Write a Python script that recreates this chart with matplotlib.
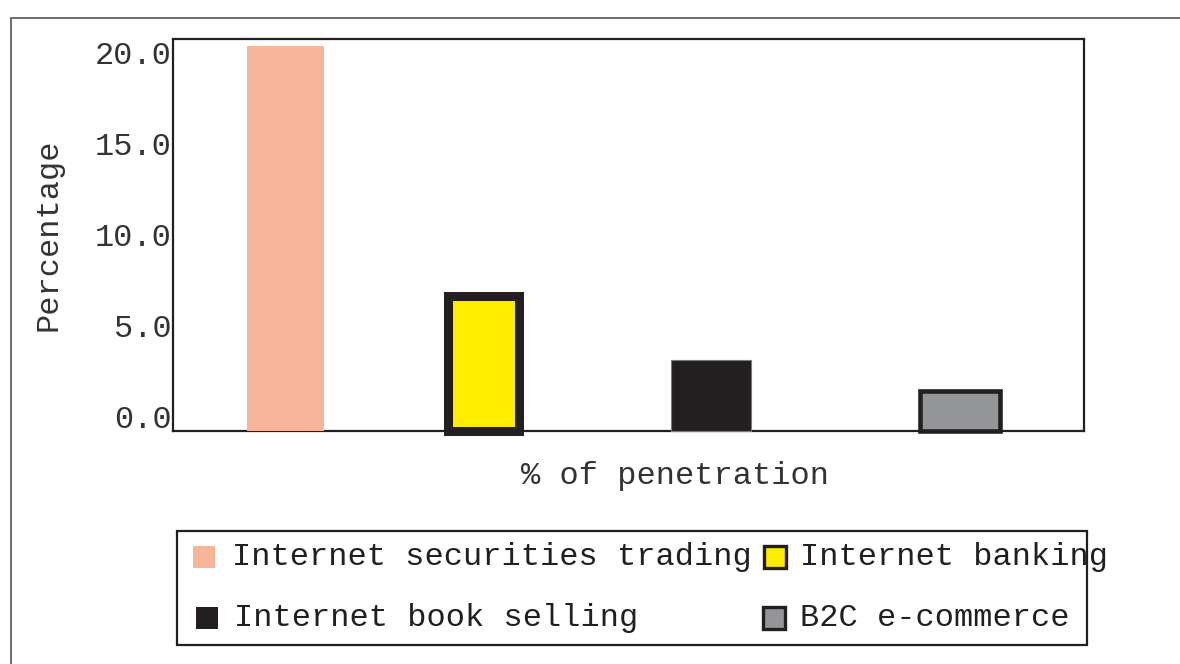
import matplotlib
matplotlib.use('Agg')
import matplotlib.pyplot as plt
import matplotlib.transforms as mtransforms
from matplotlib.patches import Rectangle

# data
categories = ['Internet securities trading', 'Internet banking',
              'Internet book selling', 'B2C e-commerce']
values = [21.1, 7.4, 3.9, 2.2]
yticks = [0, 5, 10, 15, 20]
ytick_labels = ['0.0', '5.0', '10.0', '15.0', '20.0']

# styles / layout
colors = ['#F7B59B', '#FFED00', '#231F20', '#939598']
edge_colors = ['#F7B59B', '#231F20', '#7a7a7a', '#231F20']
edge_widths = [0, 6.5, 0.8, 3.3]
xpos = [1.235, 3.41, 5.91, 8.64]
widths = [0.845, 0.785, 0.878, 0.883]
dark = '#231F20'
txtcol = '#333333'
font = 'Liberation Mono'

W, H = 1180, 664
fig = plt.figure(figsize=(W / 100, H / 100), dpi=100)


def fx(x):
    return x / W


def fy(y):
    return 1 - y / H


ax = fig.add_axes([fx(173), fy(431), (1084 - 173) / W, (431 - 39) / H])
for x, v, w, c, ec, lw in zip(xpos, values, widths, colors, edge_colors, edge_widths):
    ax.bar(x, v, width=w, color=c, edgecolor=ec, linewidth=lw, clip_on=False, zorder=3)

ax.set_xlim(0, 10)
ax.set_ylim(0, 21.5)
ax.set_xticks([])
ax.set_yticks(yticks)
ax.set_yticklabels(ytick_labels, fontfamily=font, fontsize=23, color=txtcol)
ax.tick_params(axis='y', length=0, pad=1)
# labels sit a bit above their ticks in the original
off = mtransforms.ScaledTranslation(0, 14 / 100, fig.dpi_scale_trans)
for lab in ax.get_yticklabels():
    lab.set_transform(lab.get_transform() + off)

for s in ax.spines.values():
    s.set_linewidth(1.6)
    s.set_color(dark)

ax.set_ylabel('Percentage', fontfamily=font, fontsize=23, color=txtcol)
ax.yaxis.set_label_coords((63 - 173) / 911, 0.5)
ax.set_xlabel('% of penetration', fontfamily=font, fontsize=23, color=txtcol)
ax.xaxis.set_label_coords((675 - 173) / 911, (431 - 461) / 392)

# outer frame
fig.patches.append(Rectangle((fx(11), -0.1), 1.2, fy(18) + 0.1, transform=fig.transFigure,
                             fill=False, edgecolor='#555555', linewidth=1.2))

# legend drawn by hand (text runs past the box like the original)
fig.patches.append(Rectangle((fx(177), fy(645)), (1087 - 177) / W, (645 - 531) / H,
                             transform=fig.transFigure, fill=False, edgecolor=dark, linewidth=1.6))
hx = [193, 764, 196, 763]
hy = [557, 557, 618, 618]
tx = [232, 800, 234, 800]
hlw = [0, 2.4, 0, 2.4]
for i, lab in enumerate(categories):
    s = 22
    fig.patches.append(Rectangle((fx(hx[i]), fy(hy[i] + s / 2)), s / W, s / H,
                                 transform=fig.transFigure, facecolor=colors[i],
                                 edgecolor=dark if hlw[i] else colors[i], linewidth=hlw[i]))
    fig.text(fx(tx[i]), fy(hy[i]), lab, fontfamily=font, fontsize=23,
             color=dark, va='center', ha='left')

fig.savefig('out.png', dpi=100)
